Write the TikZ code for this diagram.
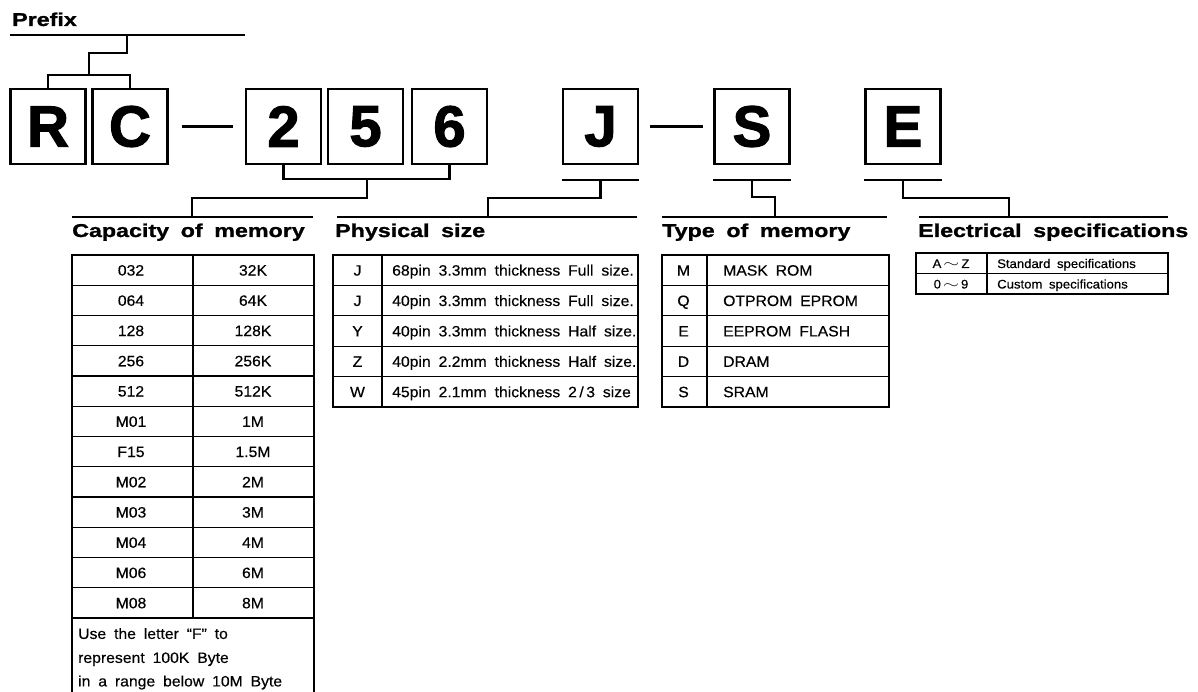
\documentclass[tikz,border=0pt]{standalone}
\usepackage{fontspec}
\setmainfont[FakeStretch=1.05,WordSpace=1.8,FakeBold=0.4]{Liberation Sans}
\newfontfamily\headfont[FakeStretch=1.25,WordSpace=1.8,FakeBold=1.2]{Liberation Sans Bold}
\newfontfamily\chipfont[FakeBold=2]{Liberation Sans Bold}
\usepackage{tikz}
\usetikzlibrary{positioning}
\newcommand\wtilde{\,\scalebox{1.7}[1.1]{$\sim$}\,}
\tikzset{
  chip/.style ={draw,line width=2.6pt,minimum size=75pt,inner sep=0pt,font=\chipfont\fontsize{58}{58}\selectfont},
  dashln/.style={line width=2.6pt},
  link/.style ={line width=2.4pt},
  rule/.style ={line width=2.4pt},
  head/.style ={anchor=base west,inner sep=0pt,font=\headfont\fontsize{18.6}{18.6}\selectfont},
  frame/.style={line width=2.6pt},
  grid/.style ={line width=1.1pt},
  cell/.style ={inner sep=0pt,text height=10.8pt,text depth=0pt,font=\fontsize{15}{15}\selectfont},
  lcell/.style={cell,anchor=west},
  scell/.style={inner sep=0pt,text height=9pt,text depth=0pt,font=\fontsize{12.5}{12.5}\selectfont},
}

\begin{document}
\begin{tikzpicture}[x=1pt,y=-1pt]
  \useasboundingbox (0,0) rectangle (1198,692);
  % part number
  \node[chip] (bR) at (48,126.5){R};
  \node[chip] (bC) at (130,126.5){C};
  \node[chip] (b2) at (283.5,126.5){2};
  \node[chip] (b5) at (365.5,126.5){5};
  \node[chip] (b6) at (449.5,126.5){6};
  \node[chip] (bJ) at (600.5,126.5){J};
  \node[chip] (bS) at (752,126.5){S};
  \node[chip] (bE) at (903,126.5){E};
  \draw[dashln,shorten <=13pt,shorten >=12pt] (bC) -- (b2);
  \draw[dashln,shorten <=10.5pt,shorten >=10pt] (bJ) -- (bS);

  % prefix
  \node[head] (pfx) at (12,26){Prefix};
  \coordinate (pfxL) at (10,35);
  \coordinate (pfxR) at (245,35);
  \coordinate (pfxT) at (127,35);
  \coordinate (kRC) at (89,75);
  \draw[rule] (pfxL) -- (pfxR);
  \draw[link] (bR.north) |- (kRC) -| (bC.north);
  \draw[link] (kRC) -- (89,53) -| (pfxT);

  % heading rules
  \coordinate (capL) at (72,217);  \coordinate (capR) at (313,217);
  \coordinate (phyL) at (337,217); \coordinate (phyR) at (637,217);
  \coordinate (typL) at (662,217); \coordinate (typR) at (887,217);
  \coordinate (eleL) at (919,217); \coordinate (eleR) at (1168,217);
  \draw[rule] (capL) -- (capR);
  \draw[rule] (phyL) -- (phyR);
  \draw[rule] (typL) -- (typR);
  \draw[rule] (eleL) -- (eleR);

  % brackets
  \coordinate (k256) at (367,179);
  \draw[link] (b2.south) |- (k256) -| (b6.south);
  \draw[link] (k256) -- (367,198) -| (192,217);
  \coordinate (uJ) at ([yshift=-15pt]bJ.south);
  \coordinate (uS) at ([yshift=-15pt]bS.south);
  \coordinate (uE) at ([yshift=-15pt]bE.south);
  \draw[rule] (bJ.south west |- uJ) -- (bJ.south east |- uJ);
  \draw[rule] (bS.south west |- uS) -- (bS.south east |- uS);
  \draw[rule] (bE.south west |- uE) -- (bE.south east |- uE);
  \draw[link] (uJ) |- (488,198) -- (488,217);
  \draw[link] (uS) |- (775,197) -- (775,217);
  \draw[link] (uE) |- (1009,198) -- (1009,217);

  % headings
  \node[head] (hcap) at (72,237){Capacity of memory};
  \node[head] (hphy) at (335,237){Physical size};
  \node[head] (htyp) at (662,237){Type of memory};
  \node[head] (hele) at (918,237){Electrical specifications};

  % capacity table
  \draw[frame] (72,692) -- (72,255) -- (314,255) -- (314,692);
  \foreach \k in {1,...,12}
    \draw[grid] (72,{255+30.25*\k}) -- (314,{255+30.25*\k});
  \draw[grid] (193,255) -- (193,618);
  \foreach \a/\b [count=\i] in {032/32K,064/64K,128/128K,256/256K,512/512K,M01/1M,
      F15/1.5M,M02/2M,M03/3M,M04/4M,M06/6M,M08/8M}{
    \node[cell] (ca\i) at (131,{255+30.25*(\i-0.5)}){\a};
    \node[cell] (cb\i) at (253,{255+30.25*(\i-0.5)}){\b};
  }
  \node[lcell] (note1) at (78,633.5){Use the letter “F” to};
  \node[lcell] (note2) at (78,657.5){represent 100K Byte};
  \node[lcell] (note3) at (78,681){in a range below 10M Byte};

  % physical size table
  \draw[frame] (333,255) rectangle (638,407);
  \foreach \k in {1,...,4}
    \draw[grid] (333,{255+30.4*\k}) -- (638,{255+30.4*\k});
  \draw[grid] (382,255) -- (382,407);
  \foreach \a/\b [count=\i] in {J/68pin 3.3mm thickness Full size.,J/40pin 3.3mm thickness Full size.,
      Y/40pin 3.3mm thickness Half size.,Z/40pin 2.2mm thickness Half size.,W/{45pin 2.1mm thickness 2\,/\,3 size}}{
    \node[cell] (pa\i) at (357.5,{255+30.4*(\i-0.5)}){\a};
    \node[lcell] (pb\i) at (392,{255+30.4*(\i-0.5)}){\b};
  }

  % type of memory table
  \draw[frame] (662,255) rectangle (889,407);
  \foreach \k in {1,...,4}
    \draw[grid] (662,{255+30.4*\k}) -- (889,{255+30.4*\k});
  \draw[grid] (707,255) -- (707,407);
  \foreach \a/\b [count=\i] in {M/MASK ROM,Q/OTPROM EPROM,E/EEPROM FLASH,D/DRAM,S/SRAM}{
    \node[cell] (ta\i) at (683.5,{255+30.4*(\i-0.5)}){\a};
    \node[lcell] (tb\i) at (723,{255+30.4*(\i-0.5)}){\b};
  }

  % electrical table
  \draw[frame] (916,253) rectangle (1168,294);
  \draw[grid] (916,273.5) -- (1168,273.5);
  \draw[grid] (987,253) -- (987,294);
  \node[scell] (ea1) at (951,263.5){A\wtilde Z};
  \node[scell,anchor=west] (eb1) at (997,263.5){Standard specifications};
  \node[scell] (ea2) at (951,284){0\wtilde 9};
  \node[scell,anchor=west] (eb2) at (997,284){Custom specifications};
\end{tikzpicture}
\end{document}
